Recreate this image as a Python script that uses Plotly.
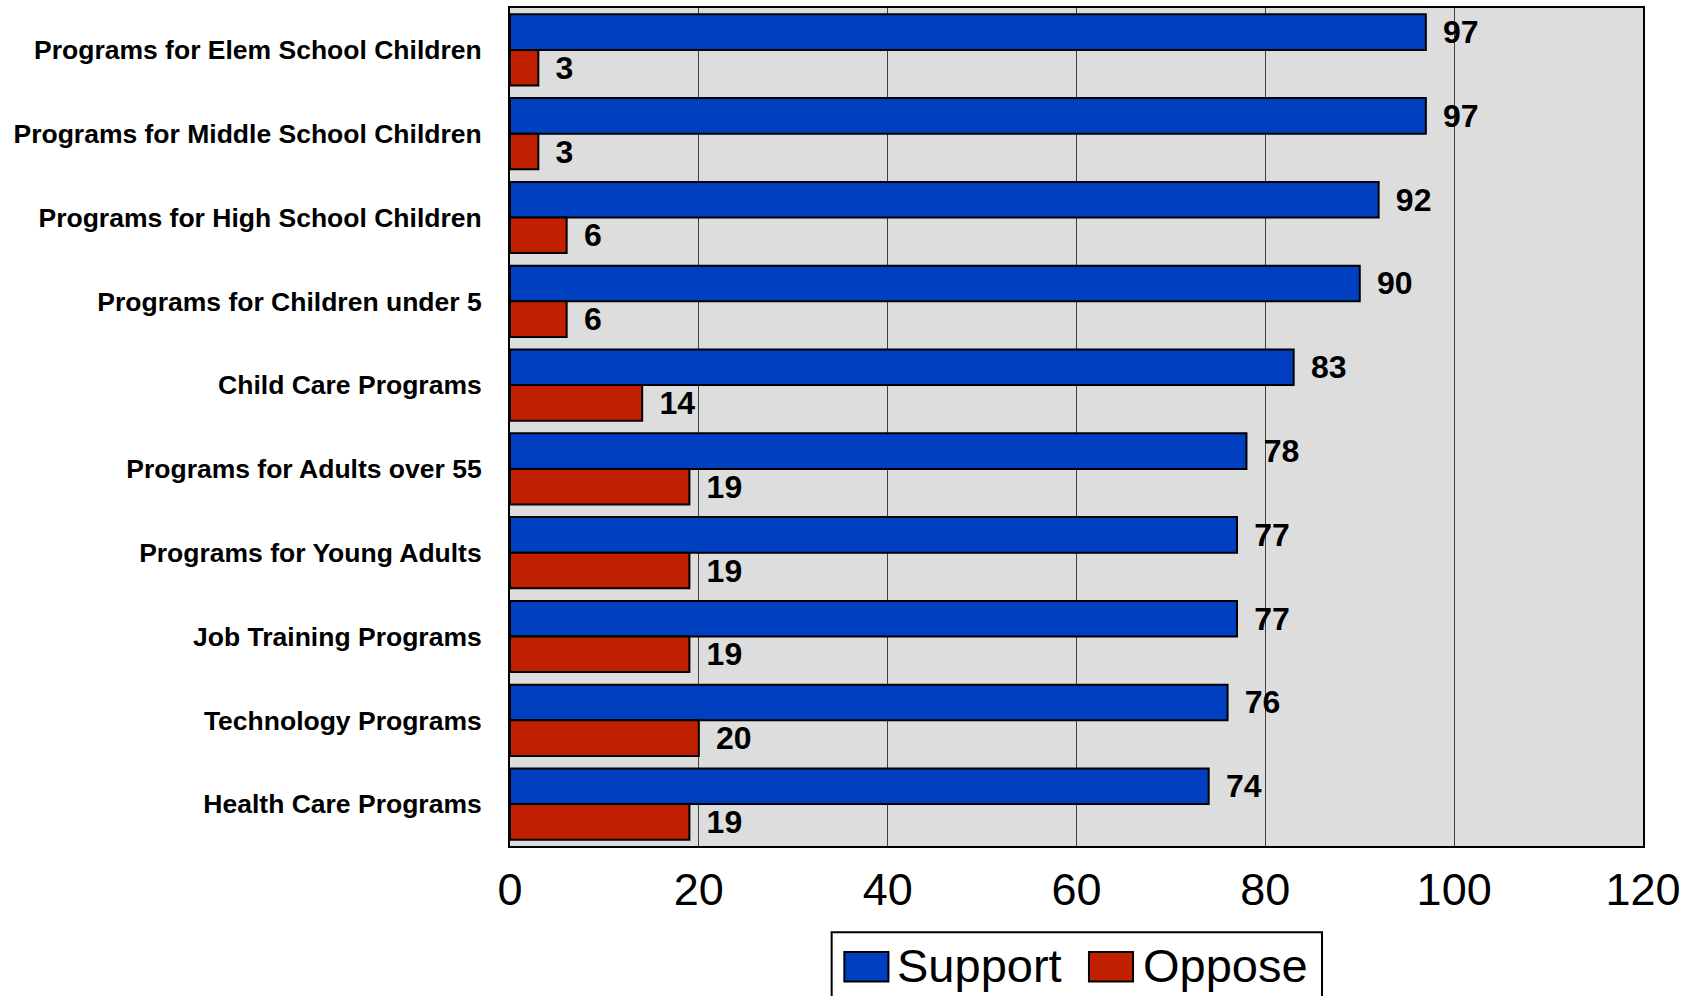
import plotly.graph_objects as go

categories = [
    "Programs for Elem School Children",
    "Programs for Middle School Children",
    "Programs for High School Children",
    "Programs for Children under 5",
    "Child Care Programs",
    "Programs for Adults over 55",
    "Programs for Young Adults",
    "Job Training Programs",
    "Technology Programs",
    "Health Care Programs",
]
series_names = ["Support", "Oppose"]
support = [97, 97, 92, 90, 83, 78, 77, 77, 76, 74]
oppose = [3, 3, 6, 6, 14, 19, 19, 19, 20, 19]
x_ticks = [0, 20, 40, 60, 80, 100, 120]

FONT = "Liberation Sans, Arial, Helvetica, sans-serif"
COLORS = ["#0040C0", "#C02000"]
LABEL_PREFIX = "\u00a0\u2006"

fig = go.Figure()
for name, vals, col in zip(series_names, [support, oppose], COLORS):
    fig.add_trace(go.Bar(
        name=name, y=categories, x=vals, orientation="h",
        marker=dict(color=col, line=dict(color="#000000", width=2)),
        texttemplate=LABEL_PREFIX + "%{x}", textposition="outside",
        constraintext="none", cliponaxis=False,
        textfont=dict(family=FONT, size=32, color="#000000", weight="bold"),
        showlegend=False,
    ))

# custom legend (large swatches, like the original)
shapes = [
    dict(type="rect", xref="paper", yref="paper",
         x0=0.2839, x1=0.7167, y0=-0.1028, y1=-0.22,
         line=dict(color="#000000", width=2), fillcolor="#FFFFFF", layer="above"),
]
annotations = []
sw_x = [0.2951, 0.5110]
txt_x = [0.3407, 0.5575]
for name, col, sx, tx in zip(series_names, COLORS, sw_x, txt_x):
    shapes.append(dict(type="rect", xref="paper", yref="paper",
                       x0=sx, x1=sx + 0.0389, y0=-0.1266, y1=-0.1616,
                       line=dict(color="#000000", width=2), fillcolor=col,
                       layer="above"))
    annotations.append(dict(xref="paper", yref="paper", x=tx, y=-0.1429,
                            xanchor="left", yanchor="middle", showarrow=False,
                            text=name, borderpad=0,
                            font=dict(family=FONT, size=47, color="#000000")))

fig.update_layout(
    width=1698, height=996,
    margin=dict(l=510, r=55, t=6, b=150),
    paper_bgcolor="#FFFFFF",
    plot_bgcolor="#DDDDDD",
    barmode="group", bargap=0.15, bargroupgap=0,
    font=dict(family=FONT, color="#000000"),
    showlegend=False,
    shapes=shapes,
    annotations=annotations,
)
fig.update_xaxes(
    range=[0, 120], tickvals=x_ticks, ticktext=[str(v) for v in x_ticks],
    showgrid=True, gridcolor="#404040", gridwidth=1,
    showline=True, linecolor="#000000", linewidth=2, mirror=True,
    ticks="", tickfont=dict(family=FONT, size=45, color="#000000"),
    ticklabelstandoff=3, zeroline=False,
)
fig.update_yaxes(
    autorange="reversed", showgrid=False,
    showline=True, linecolor="#000000", linewidth=2, mirror=True,
    ticks="", tickfont=dict(family=FONT, size=26.5, color="#000000", weight="bold"),
    ticklabelstandoff=21,
)

fig.write_html("out.html", config={"displayModeBar": False},
               post_script="document.body.style.margin='0';")
